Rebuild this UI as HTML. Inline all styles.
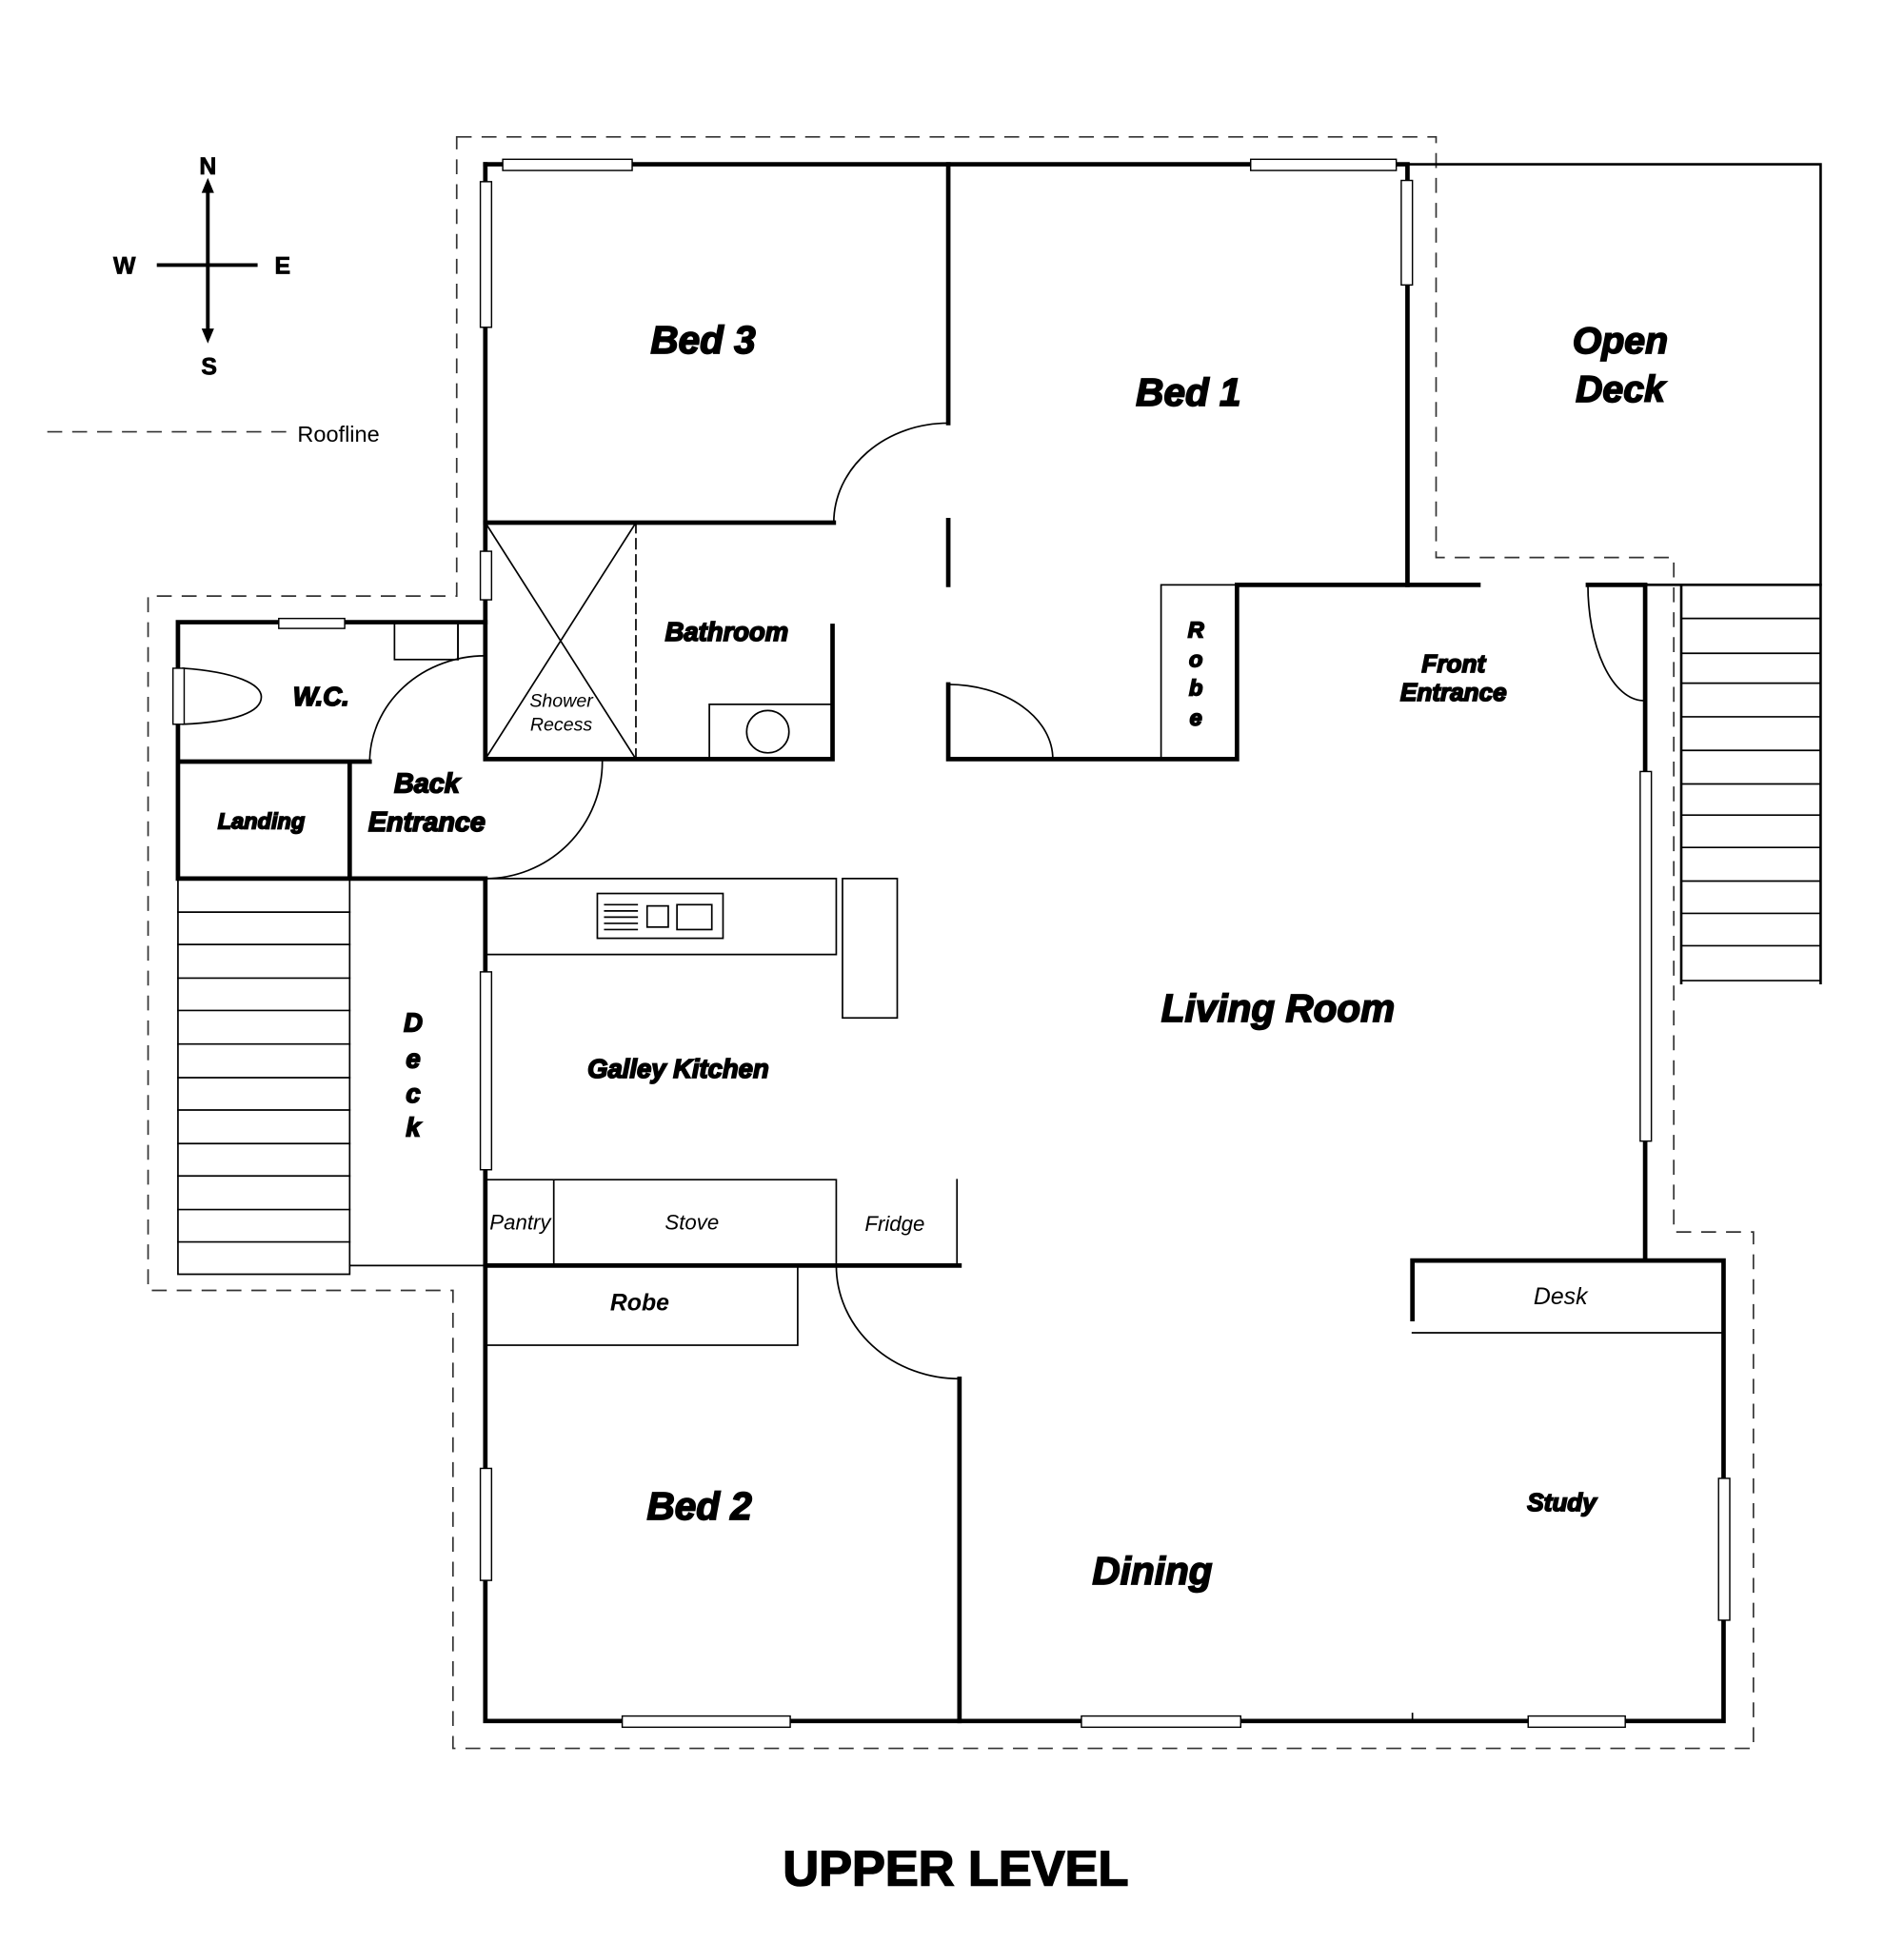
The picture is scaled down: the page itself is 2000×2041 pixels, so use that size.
<!DOCTYPE html>
<html><head><meta charset="utf-8"><style>
html,body{margin:0;padding:0;background:#fff;}
svg{display:block;}
text{font-family:"Liberation Sans",Arial,sans-serif;fill:#000;}
.b{font-weight:bold;font-style:italic;stroke:#000;stroke-width:1.3;}
.n{font-style:italic;}
</style></head><body>
<svg width="2000" height="2041" viewBox="0 0 1530 1561.4" preserveAspectRatio="none" xmlns="http://www.w3.org/2000/svg">
<rect width="1530" height="1562" fill="#fff"/>
<path d="M367,110 H1154 V448 H1345 V990 H1409 V1405 H364 V1037 H119 V479 H367 Z" fill="none" stroke="#333" stroke-width="1.3" stroke-dasharray="12,8"/>
<line x1="38" y1="347" x2="233" y2="347" stroke="#333" stroke-width="1.3" stroke-dasharray="12,8"/>
<text x="239" y="355" font-size="18">Roofline</text>
<g stroke="#000" stroke-width="3">
<line x1="167" y1="150" x2="167" y2="270"/><line x1="126" y1="213" x2="207" y2="213"/></g>
<path d="M167,143 l-5,12 h10z M167,276 l-5,-12 h10z" fill="#000"/>
<g font-size="19" font-weight="bold" text-anchor="middle" stroke="#000" stroke-width="0.6">
<text x="167" y="140">N</text><text x="100" y="220">W</text><text x="227" y="220">E</text><text x="168" y="301">S</text></g>

<g fill="none" stroke="#000" stroke-linecap="square">
<g stroke-width="3.6">
<path d="M390,132 H1131 V470"/>
<path d="M390,132 V610 H669 V503"/>
<path d="M390,420 H670"/>
<path d="M762,132 V340 M762,418 V470"/>
<path d="M762,550 V610 H994 V470 H1188"/>
<path d="M1276,470 H1322 V1012"/>
<path d="M143,500 H390 M143,500 V612 H297 M143,612 V706 H390 M281,612 V706"/>
<path d="M390,706 V1383 H1385 V1013 H1135 V1060"/>
<path d="M390,1017 H771"/>
<path d="M771,1108 V1383"/>
</g>
<g stroke-width="2">
<path d="M1131,132 H1463 V790"/>
<path d="M1351,470 V790 M1322,470 H1463"/>
</g>
<g stroke-width="1.3">
<path d="M1351,497H1463M1351,525H1463M1351,549H1463M1351,576H1463M1351,603H1463M1351,630H1463M1351,655H1463M1351,681H1463M1351,708H1463M1351,734H1463M1351,760H1463M1351,788H1463"/>
<path d="M143,706 V1024 H281 V706"/>
<path d="M143,733H281M143,759H281M143,786H281M143,812H281M143,839H281M143,866H281M143,892H281M143,919H281M143,945H281M143,972H281M143,998H281"/>
<line x1="281" y1="1017" x2="390" y2="1017"/>
<line x1="390" y1="420" x2="511" y2="610"/><line x1="511" y1="420" x2="390" y2="610"/>
<line x1="511" y1="420" x2="511" y2="610" stroke-dasharray="8,5"/>
<rect x="570" y="566" width="99" height="44"/>
<circle cx="617" cy="588" r="17"/>
<rect x="933" y="470" width="61" height="140"/>
<rect x="317" y="500" width="51" height="30"/>
<line x1="368" y1="500" x2="368" y2="530"/>
<path d="M147,537 C190,540 210,550 210,560 C210,572 190,580 147,582"/>
<path d="M670,420 A92,80 0 0 1 762,340"/>
<path d="M762,550 A84,60 0 0 1 846,610"/>
<path d="M1276,470 A45,93 0 0 0 1320,563"/>
<path d="M297,612 A93,86 0 0 1 390,527"/>
<path d="M484,612 A94,94 0 0 1 390,706"/>
<path d="M672,1017 A99,91 0 0 0 771,1108"/>
<path d="M390,706 H672 V767 H390"/>
<rect x="677" y="706" width="44" height="112"/>
<rect x="480" y="718" width="101" height="36"/>
<path d="M486,727H512M486,732H512M486,737H512M486,742H512M486,747H512"/>
<rect x="520" y="728" width="17" height="17"/><rect x="544" y="727" width="28" height="20"/>
<path d="M390,948 H672 M445,948 V1017 M672,948 V1017 M769,948 V1017"/>
<rect x="390" y="1017" width="251" height="64"/>
<path d="M1135,1071 H1385"/>
<line x1="1135" y1="1377" x2="1135" y2="1383"/>
</g>
</g>
<g fill="#fff" stroke="#000" stroke-width="1.1">
<rect x="404" y="128" width="104" height="9"/>
<rect x="1005" y="128" width="117" height="9"/>
<rect x="1126" y="145" width="9" height="84"/>
<rect x="386" y="146" width="9" height="117"/>
<rect x="386" y="443" width="9" height="39"/>
<rect x="224" y="497" width="53" height="8"/>
<rect x="139" y="537" width="9" height="45"/>
<rect x="386" y="781" width="9" height="159"/>
<rect x="1318" y="620" width="9" height="297"/>
<rect x="386" y="1180" width="9" height="90"/>
<rect x="500" y="1379" width="135" height="9"/>
<rect x="869" y="1379" width="128" height="9"/>
<rect x="1228" y="1379" width="78" height="9"/>
<rect x="1381" y="1188" width="9" height="114"/>
</g>
<g text-anchor="middle">
<text class="b" x="565" y="284" font-size="31">Bed 3</text>
<text class="b" x="955" y="326" font-size="31">Bed 1</text>
<text class="b" x="1302" y="284" font-size="30">Open</text>
<text class="b" x="1302" y="323" font-size="30">Deck</text>
<text class="b" x="584" y="515" font-size="21" stroke-width="0.9">Bathroom</text>
<text class="b" x="258" y="567" font-size="21" stroke-width="0.9">W.C.</text>
<text class="n" x="451" y="568" font-size="15">Shower</text>
<text class="n" x="451" y="587" font-size="15">Recess</text>
<text class="b" x="343" y="637" font-size="22" stroke-width="0.9">Back</text>
<text class="b" x="343" y="668" font-size="22" stroke-width="0.9">Entrance</text>
<text class="b" x="210" y="666" font-size="18" stroke-width="0.7">Landing</text>
<text class="b" x="1168" y="540" font-size="20" stroke-width="0.8">Front</text>
<text class="b" x="1168" y="563" font-size="20" stroke-width="0.8">Entrance</text>
<g class="b" font-size="18" stroke-width="0.7"><text x="961" y="512">R</text><text x="961" y="536">o</text><text x="961" y="559">b</text><text x="961" y="583">e</text></g>
<text class="b" x="1027" y="821" font-size="31">Living Room</text>
<text class="b" x="545" y="866" font-size="21" stroke-width="0.9">Galley Kitchen</text>
<g class="b" font-size="21" stroke-width="0.8"><text x="332" y="829">D</text><text x="332" y="858">e</text><text x="332" y="886">c</text><text x="332" y="913">k</text></g>
<text class="n" x="418" y="988" font-size="17">Pantry</text>
<text class="n" x="556" y="988" font-size="17">Stove</text>
<text class="n" x="719" y="989" font-size="17">Fridge</text>
<text x="514" y="1053" font-size="19" font-weight="bold" font-style="italic">Robe</text>
<text class="n" x="1254" y="1048" font-size="19">Desk</text>
<text class="b" x="562" y="1221" font-size="31">Bed 2</text>
<text class="b" x="926" y="1273" font-size="31">Dining</text>
<text class="b" x="1255" y="1214" font-size="20" stroke-width="0.8">Study</text>
<text x="768" y="1515" font-size="40" font-weight="bold" stroke="#000" stroke-width="1.2">UPPER LEVEL</text>
</g>
</svg>
</body></html>
